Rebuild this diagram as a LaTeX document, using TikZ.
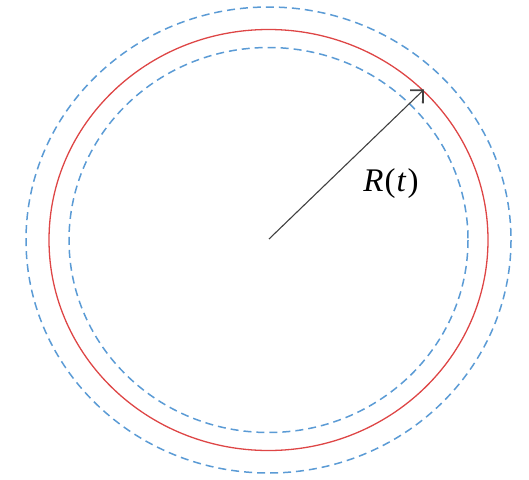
\documentclass[tikz,border=0pt]{standalone}
\usepackage{fontspec}
\setmainfont{Liberation Serif}
\newfontfamily\lblfont{Liberation Serif}
\usetikzlibrary{arrows.meta}
\definecolor{dashblue}{RGB}{91,155,213}
\definecolor{ringred}{RGB}{222,70,70}
\definecolor{arrowgray}{RGB}{64,64,64}
\tikzset{
  bound/.style={draw=dashblue, line width=1.5pt, dash pattern=on 8pt off 5pt},
  ring/.style={draw=ringred, line width=1.3pt},
  radius arrow/.style={draw=arrowgray, line width=1.1pt, -{Straight Barb[angle=90:13pt, line width=1.8pt]}},
}
\begin{document}
\begin{tikzpicture}[x=1pt, y=-1pt]
\useasboundingbox (0,0) rectangle (529,479);
\coordinate (c) at (268.5,240);
\draw[bound] (c) ellipse [x radius=242.5, y radius=233];
\draw[ring] (c) ellipse [x radius=219.5, y radius=210.5];
\draw[bound] (c) ellipse [x radius=199.5, y radius=192.5];
\coordinate (o) at (269,239);
\coordinate (tip) at (424,89.5);
\draw[radius arrow] (o) -- (tip);
\node[font=\lblfont\fontsize{33}{33}\selectfont, inner sep=0pt] (lbl) at (391,184) {\itshape R\upshape\kern1pt(\kern1pt\itshape t\upshape\kern2pt)};
\end{tikzpicture}
\end{document}
